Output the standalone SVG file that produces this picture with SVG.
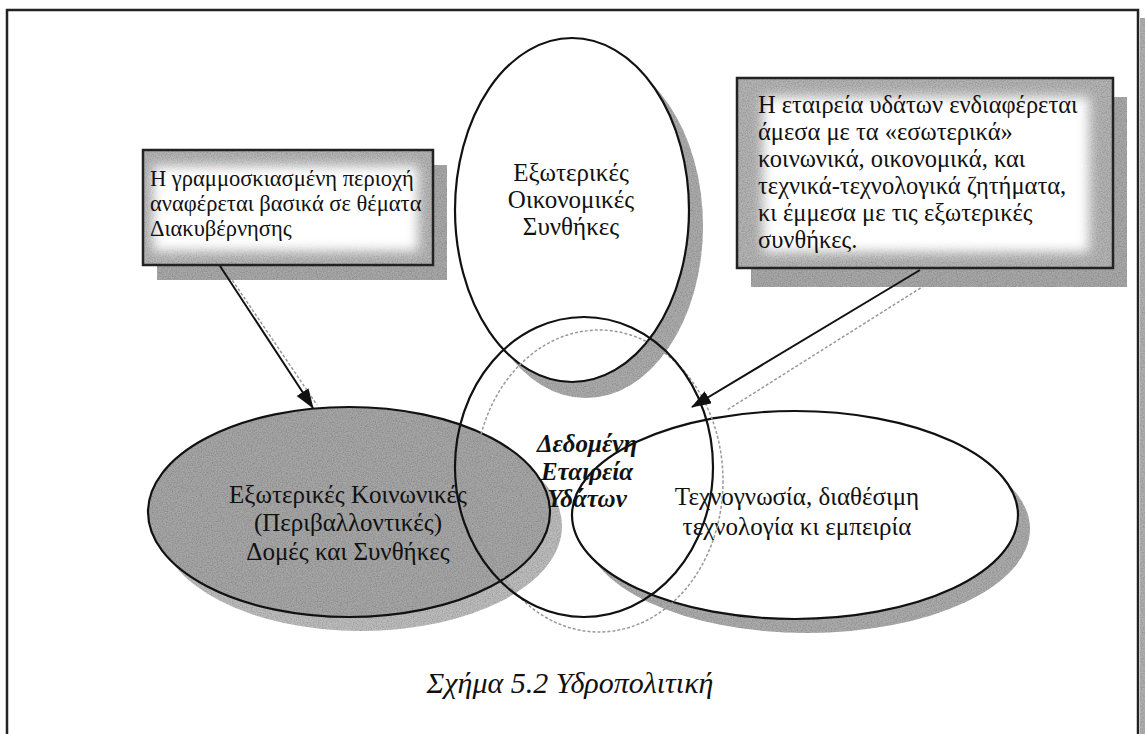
<svg xmlns="http://www.w3.org/2000/svg" width="1145" height="734" viewBox="0 0 1145 734">
<style>
.t{font-family:"Liberation Serif","Times New Roman",serif;fill:#111;}
.boxl{font-size:22.5px;}
.boxr{font-size:24.5px;}
.el{font-size:25px;text-anchor:middle;}
.ctr{font-size:25px;text-anchor:middle;font-weight:bold;font-style:italic;}
.cap{font-size:30px;text-anchor:middle;font-style:italic;}
.outline{fill:none;stroke:#111;stroke-width:2.2;}
.shadow{fill:#ababab;}
.conn{stroke:#111;stroke-width:2;fill:none;}
.ghost{stroke:#999;stroke-width:1.5;fill:none;stroke-dasharray:3 2;}
</style>
<defs>
<filter id="soft" x="-20%" y="-20%" width="140%" height="140%"><feGaussianBlur stdDeviation="6"/></filter>
<filter id="grain" x="0" y="0" width="100%" height="100%">
<feTurbulence type="fractalNoise" baseFrequency="0.8" numOctaves="2" seed="3" result="noise"/>
<feColorMatrix in="noise" type="matrix" values="0 0 0 0 0  0 0 0 0 0  0 0 0 0 0  0 0 0 0.7 -0.25" result="dark"/>
<feComposite in="dark" in2="SourceGraphic" operator="in" result="darkIn"/>
<feMerge><feMergeNode in="SourceGraphic"/><feMergeNode in="darkIn"/></feMerge>
</filter>
<marker id="ah" viewBox="0 0 20 14" refX="19" refY="7" markerWidth="20" markerHeight="14" markerUnits="userSpaceOnUse" orient="auto"><path d="M0,0 L20,7 L0,14 Z" fill="#111"/></marker>
</defs>
<rect width="1145" height="734" fill="#fff"/>
<!-- page frame -->
<path d="M7,734 V10 H1138 V734" fill="none" stroke="#222" stroke-width="2.5"/>
<rect x="1140" y="18" width="5" height="716" fill="#b0b0b0" filter="url(#grain)"/>

<!-- top ellipse -->
<g id="node-economic">
<ellipse cx="586" cy="226" rx="117" ry="172" class="shadow" filter="url(#grain)"/>
<ellipse cx="572" cy="210" rx="117" ry="172" fill="#fff" stroke="#111" stroke-width="2.2"/>
<text class="t el" x="571" y="181">Εξωτερικές</text>
<text class="t el" x="571" y="208">Οικονομικές</text>
<text class="t el" x="571" y="235">Συνθήκες</text>
</g>

<!-- left ellipse -->
<g id="node-social">
<ellipse cx="361" cy="526" rx="201" ry="105" fill="#bcbcbc" filter="url(#grain)"/>
<ellipse cx="349" cy="512" rx="201" ry="105" fill="#a6a6a6" filter="url(#grain)"/>
<ellipse cx="349" cy="512" rx="201" ry="105" class="outline"/>
<text class="t el" x="348" y="503">Εξωτερικές Κοινωνικές</text>
<text class="t el" x="348" y="531">(Περιβαλλοντικές)</text>
<text class="t el" x="348" y="560">Δομές και Συνθήκες</text>
</g>

<!-- right ellipse -->
<g id="node-tech">
<ellipse cx="807" cy="529" rx="223" ry="104" class="shadow" filter="url(#grain)"/>
<ellipse cx="795" cy="515" rx="223" ry="104" fill="#fff" stroke="#111" stroke-width="2.2"/>
<text class="t el" x="797" y="505">Τεχνογνωσία, διαθέσιμη</text>
<text class="t el" x="797" y="535">τεχνολογία κι εμπειρία</text>
</g>

<!-- central circle -->
<g id="node-company">
<ellipse cx="599" cy="481" rx="124" ry="151" class="ghost"/>
<ellipse cx="584" cy="467" rx="129" ry="150" class="outline"/>
<text class="t ctr" x="587" y="452">Δεδομένη</text>
<text class="t ctr" x="587" y="480">Εταιρεία</text>
<text class="t ctr" x="587" y="507">Υδάτων</text>
</g>

<!-- left note box -->
<g id="note-governance">
<rect x="157" y="165" width="290" height="115" fill="#a8a8a8" filter="url(#grain)"/>
<rect x="143" y="150" width="290" height="115" fill="#b3b3b3" filter="url(#grain)"/>
<rect x="153" y="166" width="265" height="85" fill="#fff" filter="url(#soft)"/>
<rect x="143" y="150" width="290" height="115" fill="none" stroke="#222" stroke-width="2.5"/>
<text class="t boxl" x="150" y="186">Η γραμμοσκιασμένη περιοχή</text>
<text class="t boxl" x="150" y="211">αναφέρεται βασικά σε θέματα</text>
<text class="t boxl" x="150" y="236">Διακυβέρνησης</text>
</g>

<!-- right note box -->
<g id="note-company">
<rect x="751" y="97" width="376" height="190" fill="#a8a8a8" filter="url(#grain)"/>
<rect x="737" y="78" width="376" height="190" fill="#b3b3b3" filter="url(#grain)"/>
<rect x="763" y="97" width="326" height="155" fill="#fff" filter="url(#soft)"/>
<rect x="737" y="78" width="376" height="190" fill="none" stroke="#222" stroke-width="2.5"/>
<text class="t boxr" x="758" y="113">Η εταιρεία υδάτων ενδιαφέρεται</text>
<text class="t boxr" x="758" y="140">άμεσα με τα  «εσωτερικά»</text>
<text class="t boxr" x="758" y="167">κοινωνικά, οικονομικά, και</text>
<text class="t boxr" x="758" y="194">τεχνικά-τεχνολογικά ζητήματα,</text>
<text class="t boxr" x="758" y="221">κι έμμεσα με τις εξωτερικές</text>
<text class="t boxr" x="758" y="248">συνθήκες.</text>
</g>

<!-- connectors -->
<g id="connectors">
<line x1="224" y1="268" x2="317" y2="405" class="ghost"/>
<line x1="220" y1="266" x2="313" y2="408" class="conn" marker-end="url(#ah)"/>
<line x1="946" y1="272" x2="727" y2="410" class="ghost"/>
<line x1="920" y1="270" x2="692" y2="407" class="conn" marker-end="url(#ah)"/>
</g>

<text class="t cap" x="570" y="693">Σχήμα 5.2 Υδροπολιτική</text>
</svg>
